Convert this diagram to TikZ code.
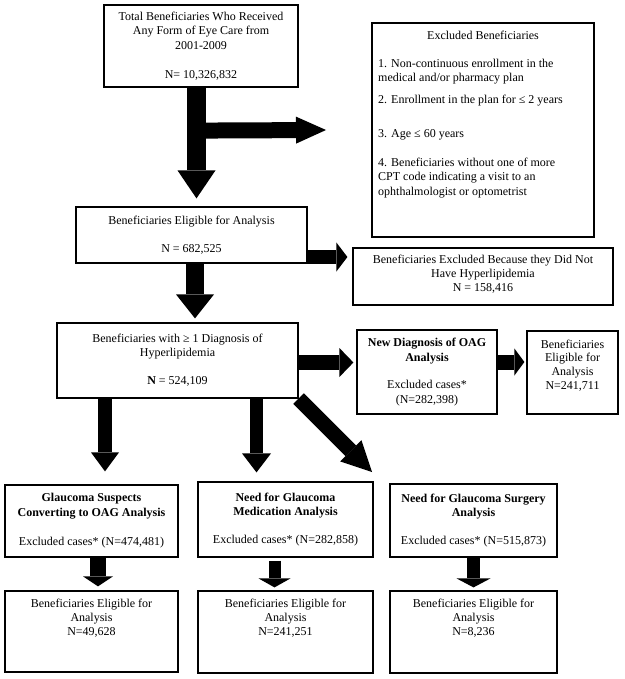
\documentclass[tikz,border=0pt]{standalone}
\usepackage{fontspec}
\setmainfont{Liberation Serif}
\usetikzlibrary{arrows.meta}
\begin{document}
\begin{tikzpicture}[x=1pt,y=-1pt,
  every node/.style={font=\fontsize{12}{14.5}\selectfont},
  box/.style={draw, line width=1.2pt, inner sep=0pt, align=center},
  txt/.style={inner sep=0pt, align=center},
  barrow/.style n args={3}{draw=black, line width=#1, -{Triangle[line width=0pt, width=#2, length=#3]}}]
\useasboundingbox (0,0) rectangle (624,679);

% boxes
\node[box, minimum width=194pt, minimum height=82pt] (top) at (201,46)
  {Total Beneficiaries Who Received\\Any Form of Eye Care from\\2001-2009\\[14.5pt]N= 10,326,832};

\node[box, minimum width=222pt, minimum height=214pt] (excl) at (483,130) {};
\node[txt, anchor=base] (excltitle) at (483,40) {Excluded Beneficiaries};
\node[txt, align=left, anchor=north west] (excllist) at (378,58.5)
  {1. Non-continuous enrollment in the\\medical and/or pharmacy plan\\[7pt]2. Enrollment in the plan for ≤ 2 years\\[19.5pt]3. Age ≤ 60 years\\[14.5pt]4. Beneficiaries without one of more\\CPT code indicating a visit to an\\ophthalmologist or optometrist};

\node[box, minimum width=231pt, minimum height=56pt] (elig) at (191.5,235)
  {Beneficiaries Eligible for Analysis\\[13.5pt]N = 682,525};

\node[box, minimum width=260pt, minimum height=57pt] (exhyp) at (483,276.5) {};
\node[txt, anchor=north, font=\fontsize{12}{14}\selectfont] (exhyptext) at (483,254.5)
  {Beneficiaries Excluded Because they Did Not\\Have Hyperlipidemia\\N = 158,416};

\node[box, minimum width=241pt, minimum height=75pt, font=\fontsize{12}{14}\selectfont] (hyp) at (177.5,360.5)
  {Beneficiaries with ≥ 1 Diagnosis of\\Hyperlipidemia\\[14pt]\textbf{N} = 524,109};

\node[box, minimum width=140pt, minimum height=84pt, font=\fontsize{12}{15}\selectfont] (newdiag) at (427,372)
  {\textbf{New Diagnosis of OAG}\\\textbf{Analysis}\\[12pt]Excluded cases*\\(N=282,398)};

\node[box, minimum width=91pt, minimum height=83pt] (eligoag) at (572.5,372.5) {};
\node[txt, anchor=north, font=\fontsize{12}{13.8}\selectfont] (eligoagtext) at (572.5,339.5)
  {Beneficiaries\\Eligible for\\Analysis\\N=241,711};

\node[box, minimum width=173pt, minimum height=72pt, font=\fontsize{12}{15}\selectfont] (ga) at (91.5,521)
  {\textbf{Glaucoma Suspects}\\\textbf{Converting to OAG Analysis}\\[14pt]Excluded cases* (N=474,481)};
\node[box, minimum width=175pt, minimum height=75pt, font=\fontsize{12}{14}\selectfont] (gb) at (285.5,519.5)
  {\textbf{Need for Glaucoma}\\\textbf{Medication Analysis}\\[14pt]Excluded cases* (N=282,858)};
\node[box, minimum width=167pt, minimum height=73pt, font=\fontsize{12}{14}\selectfont] (gc) at (473.5,520.5)
  {\textbf{Need for Glaucoma Surgery}\\\textbf{Analysis}\\[14pt]Excluded cases* (N=515,873)};

\node[box, minimum width=173pt, minimum height=81pt] (ga2) at (91.5,631.5) {};
\node[txt, anchor=north, font=\fontsize{12}{14}\selectfont] (ga2text) at (91.5,598.5)
  {Beneficiaries Eligible for\\Analysis\\N=49,628};
\node[box, minimum width=175pt, minimum height=82pt] (gb2) at (285.5,632) {};
\node[txt, anchor=north, font=\fontsize{12}{14}\selectfont] (gb2text) at (285.5,598.5)
  {Beneficiaries Eligible for\\Analysis\\N=241,251};
\node[box, minimum width=167pt, minimum height=82pt] (gc2) at (473.5,632) {};
\node[txt, anchor=north, font=\fontsize{12}{14}\selectfont] (gc2text) at (473.5,598.5)
  {Beneficiaries Eligible for\\Analysis\\N=8,236};

% arrows
\coordinate (brend) at (326,130);
\coordinate (diagend) at (372,472);

\draw[barrow={19pt}{38pt}{28pt}, shorten >=8pt] ([xshift=-4.5pt]top.south) -- ([xshift=5pt]elig.north);
\draw[barrow={16pt}{27pt}{30pt}] ([xshift=-4.5pt,yshift=-43pt]top.south) -- (brend);
\draw[barrow={14pt}{29pt}{11pt}, shorten >=5pt] ([yshift=-22pt]elig.east) -- ([yshift=-22pt]elig.east -| exhyp.west);
\draw[barrow={18pt}{38pt}{24pt}, shorten >=4pt] ([xshift=3.5pt]elig.south) -- ([xshift=3.5pt]elig.south |- hyp.north);
\draw[barrow={15pt}{29pt}{14pt}, shorten >=3pt] ([yshift=-2pt]hyp.east) -- ([yshift=-2pt]hyp.east -| newdiag.west);
\draw[barrow={15pt}{27pt}{10pt}, shorten >=2pt] ([yshift=10pt]newdiag.east) -- ([yshift=10pt]newdiag.east -| eligoag.west);
\draw[barrow={14pt}{28pt}{19pt}, shorten >=13pt] ([xshift=-72.5pt]hyp.south) -- ([xshift=-72.5pt]hyp.south |- ga.north);
\draw[barrow={13pt}{29pt}{19pt}, shorten >=9pt] ([xshift=79pt]hyp.south) -- ([xshift=79pt]hyp.south |- gb.north);
\draw[barrow={15pt}{30pt}{30pt}] (hyp.south east) -- (diagend);
\draw[barrow={16pt}{30pt}{10pt}, shorten >=4pt] ([xshift=6.5pt]ga.south) -- ([xshift=6.5pt]ga.south |- ga2.north);
\draw[barrow={12pt}{32pt}{9pt}, shorten <=3pt, shorten >=3pt] ([xshift=-11pt]gb.south) -- ([xshift=-11pt]gb.south |- gb2.north);
\draw[barrow={13pt}{34pt}{9pt}, shorten >=3pt] (gc.south) -- (gc.south |- gc2.north);
\end{tikzpicture}
\end{document}
